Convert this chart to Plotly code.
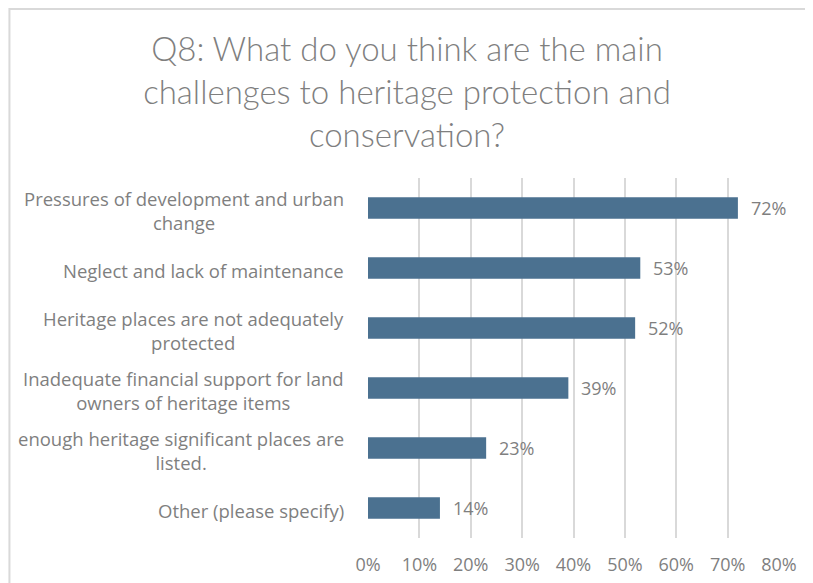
import plotly.graph_objects as go

categories = [
    "Pressures of development and urban<br>change",
    "Neglect and lack of maintenance",
    "Heritage places are not adequately<br>protected",
    "Inadequate financial support for land<br>owners of heritage items",
    "enough heritage significant places are<br>listed.",
    "Other (please specify)",
]
values = [0.72, 0.53, 0.52, 0.39, 0.23, 0.14]
tick_vals = [0, 0.1, 0.2, 0.3, 0.4, 0.5, 0.6, 0.7, 0.8]
tick_text = ["0%", "10%", "20%", "30%", "40%", "50%", "60%", "70%", "80%"]
title_text = "Q8: What do you think are the main<br>challenges to heritage protection and<br>conservation?"

W, H = 813, 583
ML, MT = 360, 170
pw, ph = 411.5, 360
MR = W - ML - pw
MB = H - MT - ph

gray = "#7f7f7f"
bar_color = "#4b7190"
font_fam = "Open Sans, Liberation Sans, sans-serif"
fs = 18.5

fig = go.Figure()
fig.add_trace(go.Bar(
    x=values, y=list(range(len(categories))), orientation="h",
    marker=dict(color=bar_color, line=dict(width=0)),
    width=0.36, hoverinfo="skip",
))

annotations = []
for i, (c, v) in enumerate(zip(categories, values)):
    annotations.append(dict(
        x=0, xref="x", y=i, yref="y", text=c, showarrow=False,
        xanchor="right", yanchor="middle", align="center", xshift=-22, yshift=-2,
        font=dict(family=font_fam, size=fs, color=gray),
    ))
    annotations.append(dict(
        x=v, xref="x", y=i, yref="y", text=f"{round(v*100)}%", showarrow=False,
        xanchor="left", yanchor="middle", xshift=11,
        font=dict(family=font_fam, size=18, color=gray),
    ))

# outer chart border (left and top visible)
bx0 = (1 - ML) / pw
by1 = (H - MB - 1) / ph
shapes = [dict(type="rect", xref="paper", yref="paper",
               x0=bx0, x1=(W + 10 - ML) / pw, y0=-(MB + 10) / ph, y1=by1,
               line=dict(color="#d9d9d9", width=2), fillcolor="rgba(0,0,0,0)", layer="below")]

fig.update_layout(
    width=W, height=H,
    margin=dict(l=ML, r=MR, t=MT, b=MB),
    paper_bgcolor="white", plot_bgcolor="white",
    showlegend=False,
    title=dict(text=title_text, x=399 / W, xref="container", xanchor="center",
               y=(H - 53) / H, yref="container", yanchor="top",
               font=dict(family="Lato, sans-serif", size=33, color=gray, weight=300)),
    xaxis=dict(range=[0, 0.8], tickvals=tick_vals, ticktext=tick_text,
               showgrid=True, gridcolor="#d9d9d9", gridwidth=1.5,
               zeroline=False, showline=False, ticks="",
               ticklabelstandoff=14,
               tickfont=dict(family=font_fam, size=18, color=gray), fixedrange=True),
    yaxis=dict(range=[len(categories) - 0.5, -0.5], showticklabels=False,
               showgrid=False, zeroline=False, showline=False, ticks="", fixedrange=True),
    annotations=annotations,
    shapes=shapes,
)
fig.write_html("out.html")
